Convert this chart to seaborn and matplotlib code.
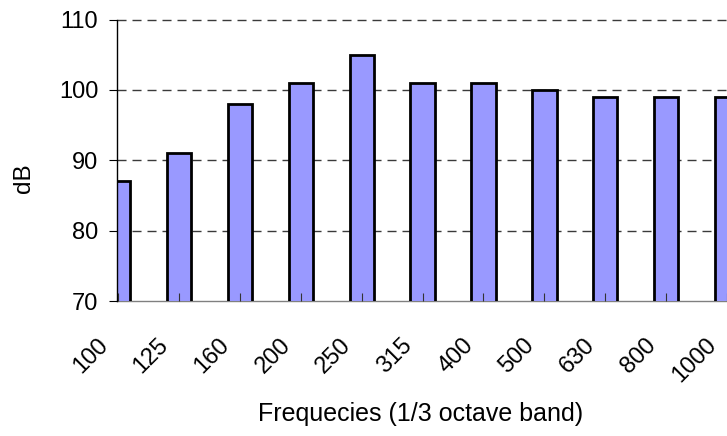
import matplotlib
matplotlib.use("Agg")
import matplotlib.pyplot as plt
from matplotlib.transforms import ScaledTranslation
import seaborn as sns
import pandas as pd

categories = ["100", "125", "160", "200", "250", "315", "400", "500", "630", "800", "1000"]
values = [87, 91, 98, 101, 105, 101, 101, 100, 99, 99, 99]
y_ticks = [70, 80, 90, 100, 110]
x_title = "Frequecies (1/3 octave band)"
y_title = "dB"

sns.set_style("white")
plt.rcParams["font.family"] = ["Liberation Sans", "DejaVu Sans"]
plt.rcParams["font.size"] = 17
for k in ["text.color", "axes.labelcolor", "xtick.color", "ytick.color"]:
    plt.rcParams[k] = "black"

df = pd.DataFrame({"freq": categories, "dB": values})

W, H = 727, 436
fig = plt.figure(figsize=(W / 100, H / 100), dpi=100)
ax = fig.add_axes([117 / W, 1 - 301 / H, 610 / W, (301 - 19.5) / H])

sns.barplot(data=df, x="freq", y="dB", order=categories, color="#9999FF",
            saturation=1, width=0.4, edgecolor="black", linewidth=2, ax=ax,
            errorbar=None)

ax.set_ylim(70, 110)
ax.set_xlim(-0.02, 10.0)
ax.set_yticks(y_ticks)

ax.grid(False)
for yv in y_ticks[1:]:
    ax.axhline(yv, color="#3a3a3a", linestyle=(0, (6.5, 4.3)), linewidth=1.0, zorder=0)
ax.set_axisbelow("line")

for s in ["top", "right"]:
    ax.spines[s].set_visible(False)
ax.spines["left"].set_color("black")
ax.spines["left"].set_linewidth(1.0)
ax.spines["bottom"].set_color("#808080")
ax.spines["bottom"].set_linewidth(1.0)
ax.spines["bottom"].set_zorder(0.5)

ax.tick_params(axis="y", direction="out", length=5.5, width=0.8, color="black",
               pad=8, labelsize=17, left=True, labelcolor="black")
ax.tick_params(axis="x", direction="in", length=6, width=0.8, color="#333333",
               pad=23.5, labelsize=17, bottom=True, labelcolor="black")

for lab in ax.get_xticklabels():
    lab.set_rotation(45)
    lab.set_ha("right")
    lab.set_va("top")
    lab.set_transform(lab.get_transform() + ScaledTranslation(-6 / 100, 0, fig.dpi_scale_trans))

ax.set_xlabel(x_title, fontsize=18, color="black")
ax.set_ylabel(y_title, fontsize=17.5, color="black")
ax.xaxis.set_label_coords((421 - 117) / 610, (301 - 402) / 281.5)
ax.yaxis.label.set_va("center")
ax.yaxis.set_label_coords((24 - 117) / 610, (301 - 178) / 281.5)

fig.savefig("out.png", dpi=100)
